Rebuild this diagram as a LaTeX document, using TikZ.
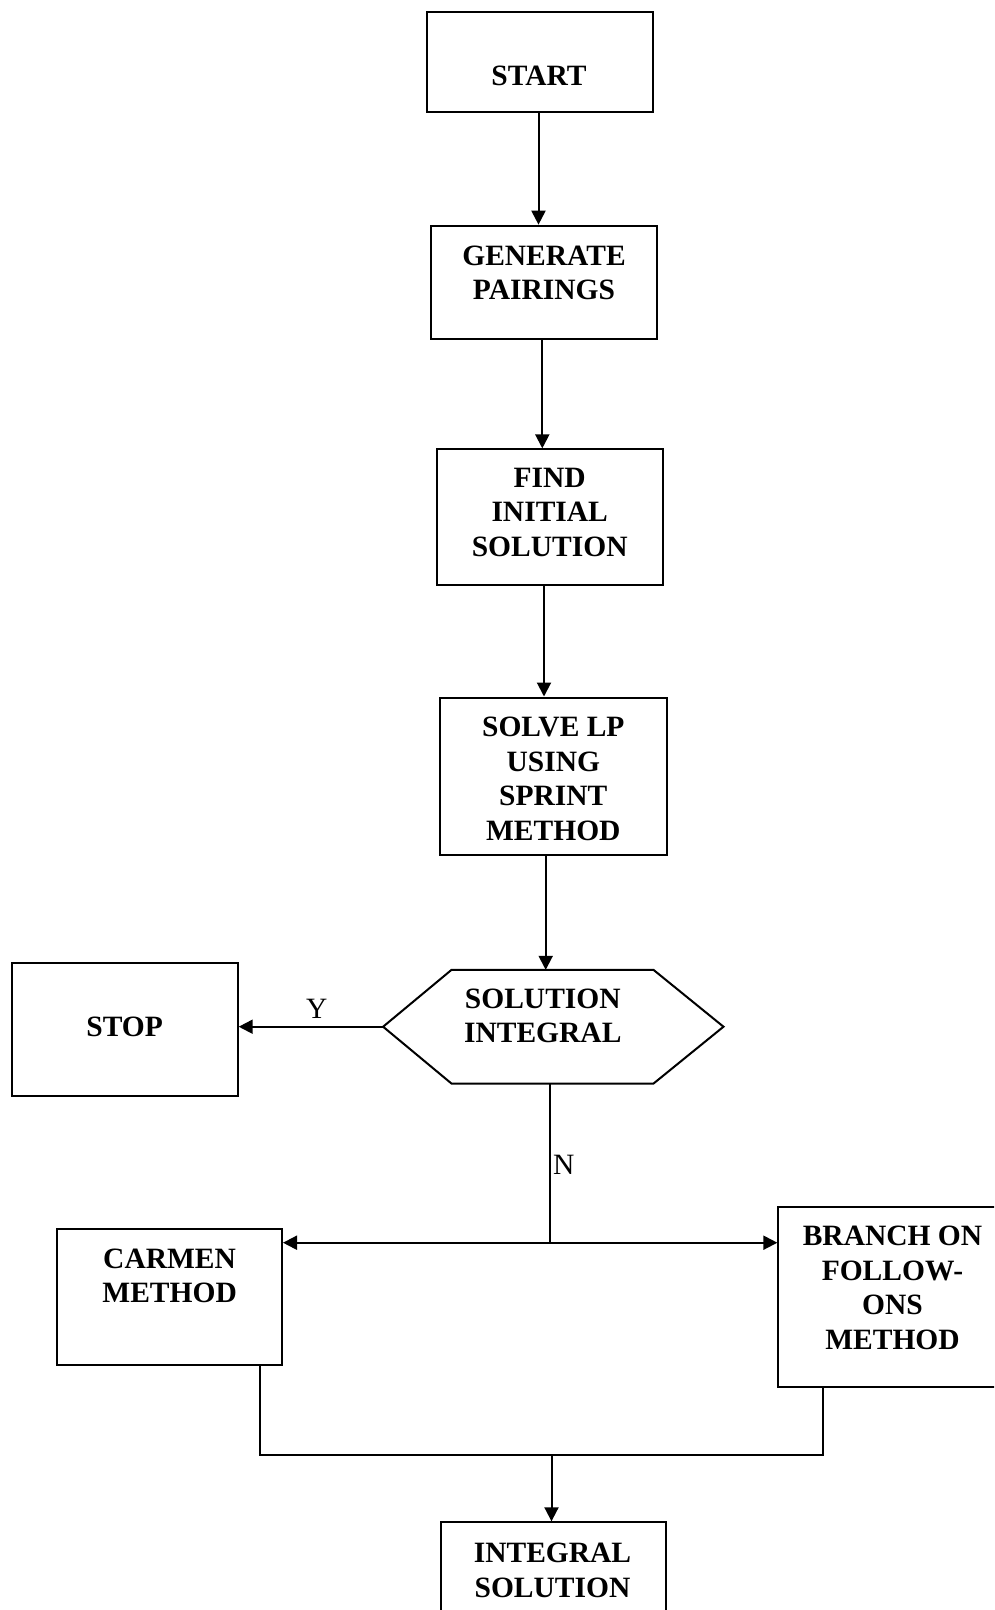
\documentclass[tikz,border=0pt]{standalone}
\usepackage{fontspec}
\setmainfont{Liberation Serif}
\usetikzlibrary{arrows.meta,calc}
\begin{document}
\begin{tikzpicture}[x=1pt,y=-1pt,
  box/.style={draw, line width=2pt, inner sep=0pt},
  ghost/.style={inner sep=0pt},
  txt/.style={font=\bfseries\fontsize{29.5}{34.5}\selectfont, align=center, inner sep=0pt, anchor=north},
  lbl/.style={font=\fontsize{29.5}{34.5}\selectfont, inner sep=0pt, anchor=north},
  conn/.style={line width=2pt},
  arr/.style={line width=2pt, -{Triangle[length=14pt,width=14pt]}}]
\clip (0,0) rectangle (994,1610);
\fill[white] (0,0) rectangle (994,1610);

% boxes
\node[box, minimum width=226.6pt, minimum height=100pt] (start) at (540,61.7) {};
\node[box, minimum width=226pt, minimum height=113.3pt] (gen) at (543.7,282.3) {};
\node[box, minimum width=226pt, minimum height=135.7pt] (find) at (549.7,517.2) {};
\node[box, minimum width=226.4pt, minimum height=157.8pt] (solve) at (553.5,776.4) {};
\node[ghost, minimum width=340pt, minimum height=113.3pt] (hex) at (553.3,1026.7) {};
\draw[conn, line join=miter] (hex.west) -- ([xshift=68.4pt]hex.north west) -- ([xshift=-70pt]hex.north east)
  -- (hex.east) -- ([xshift=-70pt]hex.south east) -- ([xshift=68.4pt]hex.south west) -- cycle;
\node[box, minimum width=226pt, minimum height=133.3pt] (stop) at (124.7,1029.3) {};
\node[box, minimum width=225pt, minimum height=135.7pt] (carmen) at (169.5,1297.2) {};
\node[box, minimum width=217.7pt, minimum height=179.4pt] (branch) at (887.2,1297) {};
\node[box, minimum width=225pt, minimum height=137.4pt] (integral) at (553.1,1591) {};

% texts
\node[txt] (tstart) at (539,66) {START};
\node[txt] (tgen) at (544,245.5) {GENERATE\\PAIRINGS};
\node[txt] (tfind) at (549.7,467.5) {FIND\\INITIAL\\SOLUTION};
\node[txt] (tsolve) at (553.3,717) {SOLVE LP\\USING\\SPRINT\\METHOD};
\node[txt] (thex) at (542.8,988.5) {SOLUTION\\INTEGRAL};
\node[txt] (tstop) at (124.7,1016.7) {STOP};
\node[txt] (tcarmen) at (169.6,1248.3) {CARMEN\\METHOD};
\node[txt] (tbranch) at (892.5,1226) {BRANCH ON\\FOLLOW-\\ONS\\METHOD};
\node[txt] (tintegral) at (552.5,1543) {INTEGRAL\\SOLUTION};
\node[lbl] (ylab) at (316.7,999) {Y};
\node[lbl] (nlab) at (563.7,1155) {N};

% connectors
\draw[arr] ([xshift=-1.5pt]start.south) -- ([xshift=-1.5pt]start.south |- gen.north);
\draw[arr] ([xshift=-1.4pt]gen.south) -- ([xshift=-1.4pt]gen.south |- find.north);
\draw[arr] ([xshift=-5.7pt]find.south) -- ([xshift=-5.7pt]find.south |- solve.north);
\draw[arr] ([xshift=-7.8pt]solve.south) -- ([xshift=-7.8pt]solve.south |- hex.north);
\draw[arr] (hex.west) -- (hex.west -| stop.east);
\coordinate (j) at (550,1242.7);
\draw[conn] ([xshift=-3.3pt]hex.south) -- (j);
\draw[arr] (j) -- (j -| carmen.east);
\draw[arr] (j) -- (j -| branch.west);
\coordinate (m) at (551.5,1455);
\draw[conn] ([xshift=90.5pt]carmen.south) |- (m) -| ([xshift=-63.9pt]branch.south);
\draw[arr] (m) -- (m |- integral.north);
\end{tikzpicture}
\end{document}
